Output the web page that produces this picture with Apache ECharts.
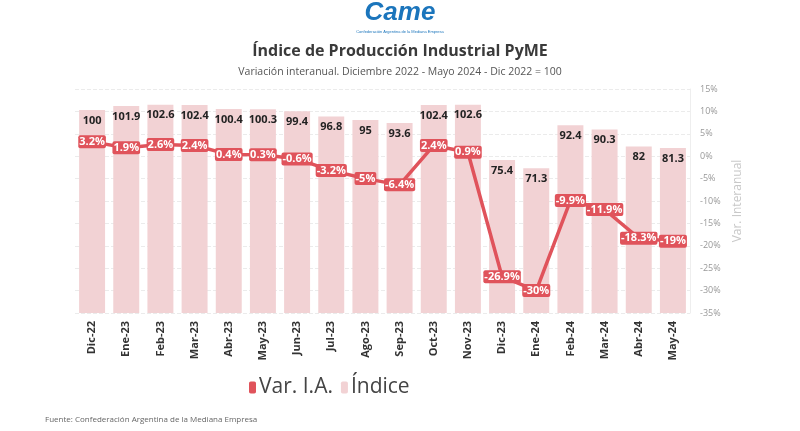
<!DOCTYPE html>
<html>
<head>
<meta charset="utf-8">
<script src="https://cdn.jsdelivr.net/npm/echarts@6/dist/echarts.min.js"></script>
<style>
html, body { margin: 0; padding: 0; background: #fff; }
#chart { width: 800px; height: 431px; }
</style>
</head>
<body>
<div id="chart"></div>
<script>
var months = ['Dic-22','Ene-23','Feb-23','Mar-23','Abr-23','May-23','Jun-23','Jul-23','Ago-23','Sep-23','Oct-23','Nov-23','Dic-23','Ene-24','Feb-24','Mar-24','Abr-24','May-24'];
var indice = [100, 101.9, 102.6, 102.4, 100.4, 100.3, 99.4, 96.8, 95, 93.6, 102.4, 102.6, 75.4, 71.3, 92.4, 90.3, 82, 81.3];
var varIA = [3.2, 1.9, 2.6, 2.4, 0.4, 0.3, -0.6, -3.2, -5, -6.4, 2.4, 0.9, -26.9, -30, -9.9, -11.9, -18.3, -19];

var dom = document.getElementById('chart');
var myChart = echarts.init(dom);
var option = {
    backgroundColor: '#fff',
    textStyle: { fontFamily: 'Open Sans' },
    title: [
        {
            text: 'Índice de Producción Industrial PyME',
            left: 'center',
            top: 38,
            textStyle: { fontSize: 16, fontWeight: 'bold', color: '#3a3a3a', fontFamily: 'Open Sans' }
        },
        {
            text: 'Variación interanual. Diciembre 2022 - Mayo 2024 - Dic 2022 = 100',
            left: 'center',
            top: 62,
            textStyle: { fontSize: 10.5, fontWeight: 'normal', color: '#555', fontFamily: 'Open Sans' }
        }
    ],
    graphic: [
        {
            type: 'text', left: 'center', top: 0,
            style: { text: 'Came', fontSize: 26, fontWeight: 'bold', fontStyle: 'italic', fill: '#1b75bc', fontFamily: 'Liberation Sans' }
        },
        {
            type: 'text', left: 'center', top: 30,
            style: { text: 'Confederación Argentina de la Mediana Empresa', fontSize: 4, fill: '#1b75bc' }
        },
        {
            type: 'text', left: 45, top: 416,
            style: { text: 'Fuente: Confederación Argentina de la Mediana Empresa', fontSize: 8, fill: '#666', fontFamily: 'Open Sans' }
        }
    ],
    legend: {
        data: ['Var. I.A.', 'Índice'],
        left: 244,
        top: 372,
        icon: 'roundRect',
        itemWidth: 7,
        itemHeight: 12,
        itemGap: 8,
        textStyle: { fontSize: 21, color: '#444', padding: [0, 0, 0, -2] }
    },
    grid: { left: 75, right: 110, top: 89, bottom: 118 },
    xAxis: {
        type: 'category',
        data: months,
        axisLine: { show: false },
        axisTick: { show: false },
        axisLabel: { rotate: 90, fontWeight: 'bold', fontSize: 11, color: '#333', margin: 8 }
    },
    yAxis: [
        {
            type: 'value',
            min: 0,
            max: 110.3,
            show: false
        },
        {
            type: 'value',
            position: 'right',
            min: -35,
            max: 15,
            interval: 5,
            name: 'Var. Interanual',
            nameLocation: 'middle',
            nameRotate: 90,
            nameGap: 38,
            nameTextStyle: { color: '#c8c8c8', fontSize: 12 },
            axisLine: { show: true, lineStyle: { color: '#eeeeee' } },
            axisTick: { show: false },
            axisLabel: { formatter: '{value}%', color: '#999', fontSize: 9, margin: 10 },
            splitLine: { show: true, lineStyle: { color: '#ebebeb', type: 'dashed' } }
        }
    ],
    series: [
        {
            name: 'Var. I.A.',
            type: 'line',
            yAxisIndex: 1,
            data: varIA,
            z: 3,
            itemStyle: { color: '#e0535b' },
            lineStyle: { width: 3.5, color: '#e0535b' },
            symbol: 'circle',
            symbolSize: 2,
            label: {
                show: true,
                position: 'inside',
                formatter: '{c}%',
                color: '#fff',
                fontWeight: 'bold',
                fontSize: 11,
                backgroundColor: '#e0535b',
                padding: [1, 1],
                borderRadius: 2
            }
        },
        {
            name: 'Índice',
            type: 'bar',
            yAxisIndex: 0,
            data: indice,
            barCategoryGap: '24%',
            z: 1,
            itemStyle: { color: '#f2d2d4' },
            label: {
                show: true,
                position: 'insideTop',
                distance: 5,
                color: '#222',
                fontWeight: 'bold',
                fontSize: 11
            }
        }
    ]
};
if (option && typeof option === 'object') {
    myChart.setOption(option, true);
}
</script>
</body>
</html>
